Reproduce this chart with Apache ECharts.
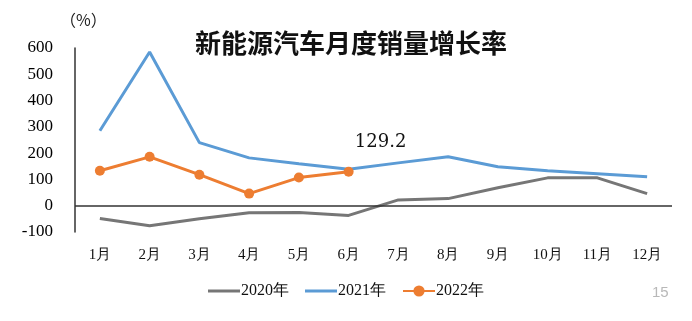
<!DOCTYPE html>
<html>
<head>
<meta charset="utf-8">
<script src="https://cdn.jsdelivr.net/npm/echarts@6/dist/echarts.min.js"></script>
<style>
html,body{margin:0;padding:0;background:#fff;}
#c{width:692px;height:321px;}
</style>
</head>
<body>
<div id="c"></div>
<script>
const months = ['1月','2月','3月','4月','5月','6月','7月','8月','9月','10月','11月','12月'];
const s2020 = [-49, -76, -50, -27, -26, -37, 22, 27, 68, 106, 106, 46];
const s2021 = [285, 585, 240, 182, 160, 139, 163, 186, 148, 133, 122, 110];
const s2022 = [133, 186, 118, 46, 107, 129.2];
const yTicks = [-100, 0, 100, 200, 300, 400, 500, 600];

const chart = echarts.init(document.getElementById('c'), null, {renderer:'canvas'});
const serif = '"Liberation Serif", "DejaVu Serif", serif';
chart.setOption({
  backgroundColor: '#fff',
  animation: false,
  title: {
    text: '新能源汽车月度销量增长率',
    left: 190, top: 25,
    textStyle: {fontFamily: '"Noto Sans CJK SC"', fontSize: 26, fontWeight: 'bold', color: '#111'}
  },
  graphic: [
    {type:'text', left: 60, top: 12, style:{text:'（%）', fontFamily:'"Noto Sans CJK SC"', fontSize: 16, fill:'#222'}},
    {type:'text', left: 652, top: 285, style:{text:'15', fontFamily:'"Liberation Sans"', fontSize: 15, fill:'#b8b8b8'}}
  ],
  legend: {
    bottom: 17, left: 'center', itemGap: 16, itemWidth: 32, itemHeight: 14,
    textStyle: {fontFamily: serif, fontSize: 16, color: '#111', padding:[0,0,0,-4]},
    data: [
      {name:'2020年', icon:'path://M0,0 L32,0 L32,3 L0,3 Z'},
      {name:'2021年', icon:'path://M0,0 L32,0 L32,3 L0,3 Z'},
      {name:'2022年'}
    ]
  },
  grid: {left: 75, right: 20, top: 48, bottom: 89},
  xAxis: {
    type: 'category', data: months, boundaryGap: true,
    axisLine: {show:false, onZero:false},
    axisTick: {show:false},
    axisLabel: {margin: 16, fontFamily: serif, fontSize: 15, color:'#111'}
  },
  yAxis: {
    type: 'value', min: -100, max: 600, interval: 100,
    axisLine: {show:true, lineStyle:{color:'#333', width:1.5}},
    axisTick: {show:false},
    splitLine: {show:false},
    axisLabel: {margin: 22, fontFamily: serif, fontSize: 17, color:'#000',
      formatter: v => yTicks.includes(v) ? String(v) : ''}
  },
  series: [
    {name:'2020年', type:'line', data: s2020, symbol:'none',
     lineStyle:{color:'#767676', width:3}, itemStyle:{color:'#767676'},
     markLine:{silent:true, symbol:'none', label:{show:false},
       lineStyle:{color:'#333', width:1.5, type:'solid'}, data:[{yAxis:0}]}},
    {name:'2021年', type:'line', data: s2021, symbol:'none',
     lineStyle:{color:'#5b9bd5', width:3}, itemStyle:{color:'#5b9bd5'}},
    {name:'2022年', type:'line', data: s2022.map((v,i)=> i===5 ? {value:v, label:{show:true, position:'top', offset:[32,-10], fontFamily: '"DejaVu Serif"', fontSize:18, color:'#111', formatter:'{c}'}} : v),
     symbol:'circle', symbolSize: 10,
     lineStyle:{color:'#ed7d31', width:3}, itemStyle:{color:'#ed7d31'}}
  ]
});
</script>
</body>
</html>
